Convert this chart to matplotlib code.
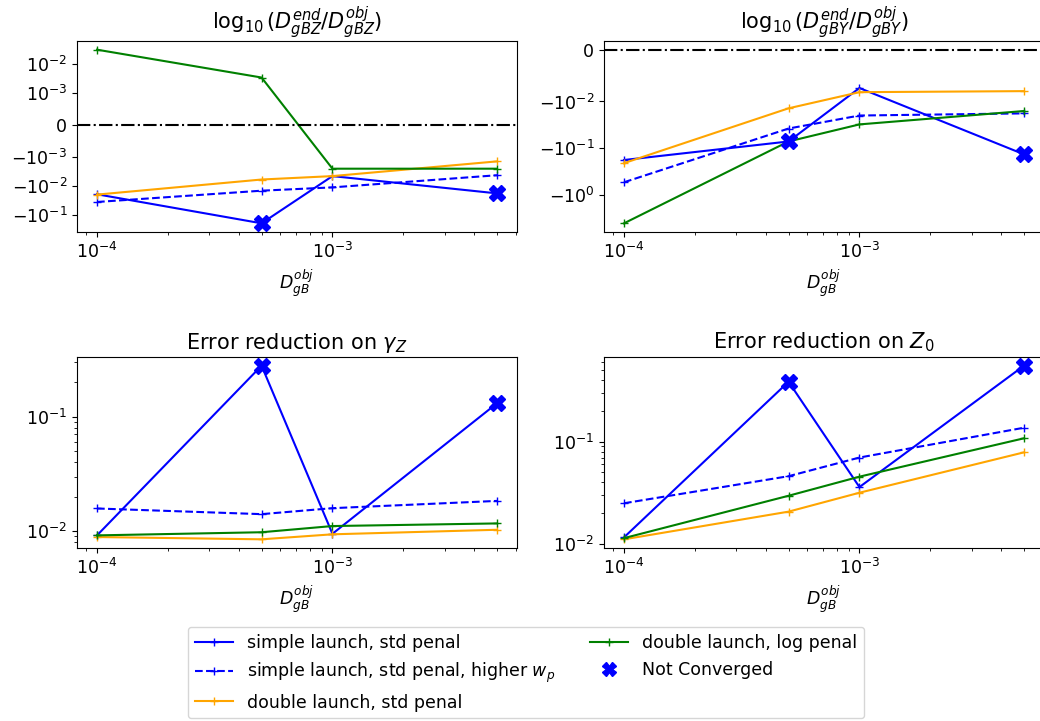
import matplotlib
matplotlib.use('Agg')
import matplotlib.pyplot as plt
from matplotlib.lines import Line2D

plt.rcParams['font.size'] = 12.5

# x values: objective gB diffusion
d_obj = [1e-4, 5e-4, 1e-3, 5e-3]

# log10(D_gBZ end / obj)
gbz_simple = [-0.019, -0.19, -0.0045, -0.0177]
gbz_simple_wp = [-0.035, -0.0143, -0.011, -0.0042]
gbz_double = [-0.0195, -0.0059, -0.0045, -0.0014]
gbz_double_log = [0.03, 0.0033, -0.0025, -0.0025]

# log10(D_gBY end / obj)
gby_simple = [-0.18, -0.072, -0.0074, -0.136]
gby_simple_wp = [-0.54, -0.038, -0.020, -0.018]
gby_double = [-0.21, -0.014, -0.0082, -0.0080]
gby_double_log = [-4.1, -0.072, -0.031, -0.016]

# error reduction on gamma_Z
gam_simple = [0.0092, 0.279, 0.0095, 0.131]
gam_simple_wp = [0.0158, 0.0141, 0.0159, 0.0184]
gam_double = [0.0089, 0.0085, 0.0094, 0.0103]
gam_double_log = [0.0092, 0.0098, 0.0111, 0.0117]

# error reduction on Z0
z0_simple = [0.0116, 0.386, 0.036, 0.554]
z0_simple_wp = [0.025, 0.046, 0.070, 0.137]
z0_double = [0.0111, 0.0207, 0.0317, 0.0787]
z0_double_log = [0.0114, 0.0296, 0.0455, 0.108]

# indices of simple launch runs that did not converge
not_conv = [1, 3]

titles = [r'$\log_{10}(D_{gBZ}^{end}/D_{gBZ}^{obj})$',
          r'$\log_{10}(D_{gBY}^{end}/D_{gBY}^{obj})$',
          r'Error reduction on $\gamma_Z$',
          r'Error reduction on $Z_0$']

fig = plt.figure(figsize=(10.4, 7.21), dpi=100)
W, H = 1040, 721
boxes = [(77, 41), (604, 41), (77, 357), (604, 357)]
axes = []
for (x0, y0) in boxes:
    axes.append(fig.add_axes([x0 / W, 1 - (y0 + 191) / H, 440 / W, 191 / H]))

data = [(gbz_simple, gbz_simple_wp, gbz_double, gbz_double_log),
        (gby_simple, gby_simple_wp, gby_double, gby_double_log),
        (gam_simple, gam_simple_wp, gam_double, gam_double_log),
        (z0_simple, z0_simple_wp, z0_double, z0_double_log)]

for i, ax in enumerate(axes):
    ax.set_xscale('log')
    if i == 0:
        ax.set_yscale('symlog', linthresh=1e-3)
    elif i == 1:
        ax.set_yscale('symlog', linthresh=1e-2)
    else:
        ax.set_yscale('log')
    s, swp, d, dl = data[i]
    ax.plot(d_obj, s, '-+', color='blue')
    ax.plot(d_obj, swp, '--+', color='blue')
    ax.plot(d_obj, d, '-+', color='orange')
    ax.plot(d_obj, dl, '-+', color='green')
    ax.plot([d_obj[j] for j in not_conv], [s[j] for j in not_conv], 'X',
            color='blue', markersize=12, linestyle='none')
    if i < 2:
        ax.axhline(0, color='k', linestyle='-.')
    ax.set_title(titles[i])
    ax.set_xlabel(r'$D_{gB}^{obj}$')

handles = [Line2D([], [], color='blue', ls='-', marker='+'),
           Line2D([], [], color='blue', ls='--', marker='+'),
           Line2D([], [], color='orange', ls='-', marker='+'),
           Line2D([], [], color='green', ls='-', marker='+'),
           Line2D([], [], color='blue', ls='none', marker='X', markersize=10)]
labels = ['simple launch, std penal',
          r'simple launch, std penal, higher $w_p$',
          'double launch, std penal',
          'double launch, log penal',
          'Not Converged']
fig.legend(handles, labels, loc='upper center', ncol=2, handlelength=2.2,
           bbox_to_anchor=(526 / W, 1 - 627 / H), borderaxespad=0)

fig.savefig('out.png', dpi=100)
